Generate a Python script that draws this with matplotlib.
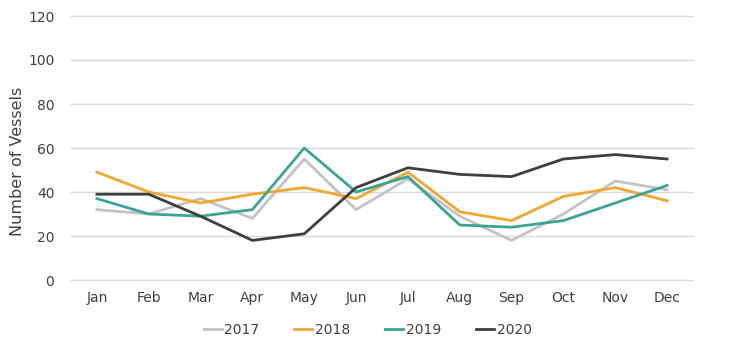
import matplotlib
matplotlib.use("Agg")
import matplotlib.pyplot as plt

months = ["Jan", "Feb", "Mar", "Apr", "May", "Jun", "Jul", "Aug", "Sep", "Oct", "Nov", "Dec"]
years = ["2017", "2018", "2019", "2020"]
v2017 = [32, 30, 37, 28, 55, 32, 46, 29, 18, 30, 45, 41]
v2018 = [49, 40, 35, 39, 42, 37, 49, 31, 27, 38, 42, 36]
v2019 = [37, 30, 29, 32, 60, 40, 47, 25, 24, 27, 35, 43]
v2020 = [39, 39, 29, 18, 21, 42, 51, 48, 47, 55, 57, 55]
series = [v2017, v2018, v2019, v2020]
colors = ["#c3c3c3", "#f0a732", "#3aa597", "#3f3f3f"]

fig = plt.figure(figsize=(7.33, 3.52), dpi=100)
ax = fig.add_axes([71/733, 1-280/352, (693-71)/733, (280-16)/352])

x = list(range(len(months)))
for vals, c, lab in zip(series, colors, years):
    ax.plot(x, vals, color=c, lw=2, label=lab)

ax.set_xlim(-0.5, 11.5)
ax.set_ylim(0, 120)
ax.set_yticks(range(0, 121, 20))
ax.set_xticks(x)
ax.set_xticklabels(months)
for s in ax.spines.values():
    s.set_visible(False)
ax.grid(axis="y", color="#d9d9d9", lw=1)
for gl in ax.get_ygridlines():
    gl.set_clip_on(False)
ax.set_axisbelow(True)
ax.tick_params(length=0, labelsize=10, colors="#404040", pad=8)
ax.tick_params(axis="y", pad=12)
ax.set_ylabel("Number of Vessels", fontsize=11.5, color="#404040", labelpad=4)
ax.yaxis.set_label_coords(-0.074, 0.449)

leg = ax.legend(loc="upper center", bbox_to_anchor=(0.477, -0.115), ncol=4, frameon=False,
                fontsize=10, handlelength=1.3, handletextpad=0.2, columnspacing=2.5)
for t in leg.get_texts():
    t.set_color("#404040")

fig.savefig("out.png", dpi=100)
